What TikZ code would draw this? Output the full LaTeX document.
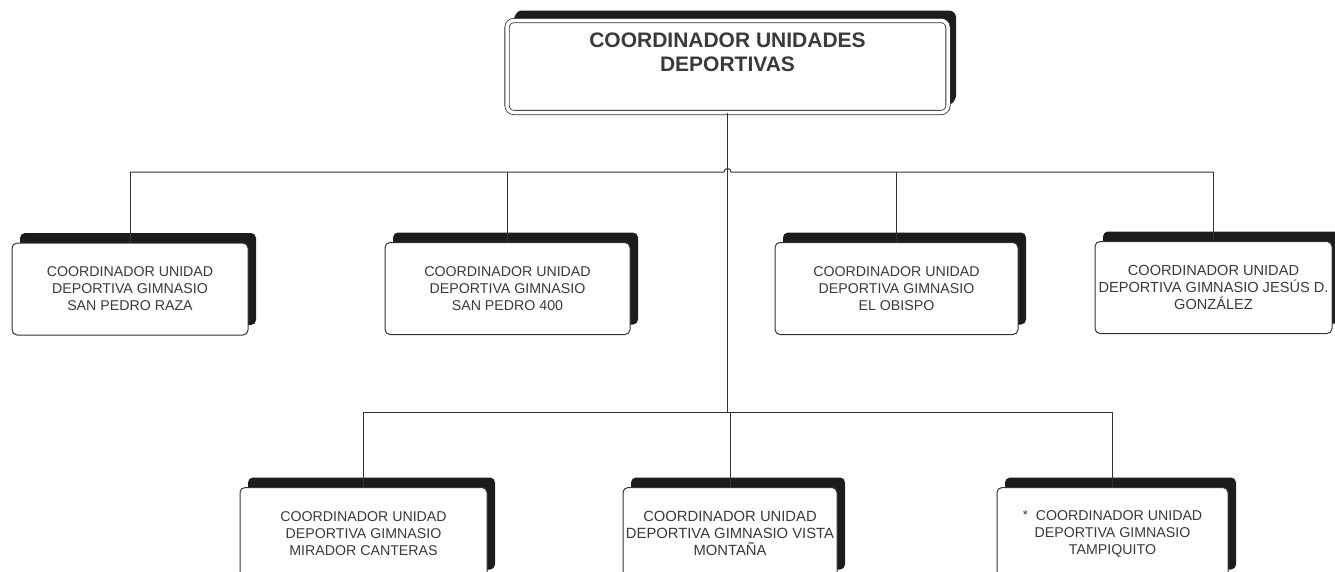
\documentclass[tikz,border=0pt]{standalone}
\usepackage{fontspec}
\setmainfont{Liberation Sans}
\usepackage{xcolor}
\usetikzlibrary{shadows}

\definecolor{inkgray}{HTML}{333333}
\definecolor{textgray}{HTML}{3A3A3A}
\definecolor{shadowgray}{HTML}{1C1C1C}

\begin{document}
\begin{tikzpicture}[x=1pt,y=-1pt,
  unitbox/.style={draw=inkgray, line width=1pt, fill=white, rounded corners=5pt,
    inner sep=0pt, minimum height=92pt, align=center, text=textgray,
    font=\fontsize{14.2}{17}\selectfont,
    drop shadow={shadow xshift=8pt, shadow yshift=10pt, fill=shadowgray, opacity=1}},
  headbox/.style={unitbox, rounded corners=7pt, double=white, double distance=3.5pt, line width=0.8pt,
    drop shadow={shadow xshift=7pt, shadow yshift=8pt, fill=shadowgray, opacity=1}},
  link/.style={draw=inkgray, line width=1pt}]

\useasboundingbox (0,0) rectangle (1335,571);
\clip (0,0) rectangle (1335,571);

% head
\node[headbox] (coord) at (727.5,66.5)
  {\parbox[c][91pt][t]{441pt}{\centering\vspace*{12pt}%
   \bfseries\fontsize{21}{23.5}\selectfont COORDINADOR UNIDADES\\DEPORTIVAS}};

% first row
\node[unitbox, minimum width=236pt] (raza) at (130,289)
  {COORDINADOR UNIDAD\\DEPORTIVA GIMNASIO\\SAN PEDRO RAZA};
\node[unitbox, minimum width=245pt] (cuatro) at (507.5,288.5)
  {COORDINADOR UNIDAD\\DEPORTIVA GIMNASIO\\SAN PEDRO 400};
\node[unitbox, minimum width=243pt] (obispo) at (896.5,288.5)
  {COORDINADOR UNIDAD\\DEPORTIVA GIMNASIO\\EL OBISPO};
\node[unitbox, minimum width=237pt, font=\fontsize{14.6}{17}\selectfont] (jesus) at (1213.5,287.5)
  {COORDINADOR UNIDAD\\DEPORTIVA GIMNASIO JESÚS D.\\GONZÁLEZ};

% second row
\node[unitbox, minimum width=247pt] (mirador) at (363.5,533.5)
  {COORDINADOR UNIDAD\\DEPORTIVA GIMNASIO\\MIRADOR CANTERAS};
\node[unitbox, minimum width=214pt, font=\fontsize{14.8}{17}\selectfont] (vista) at (730,533.5)
  {COORDINADOR UNIDAD\\DEPORTIVA GIMNASIO VISTA\\MONTAÑA};
\node[unitbox, minimum width=231pt] (tampi) at (1112.5,533.5)
  {\raisebox{1pt}{\fontsize{13}{13}\selectfont *}\hspace{8pt}COORDINADOR UNIDAD\\DEPORTIVA GIMNASIO\\TAMPIQUITO};

% buses
\coordinate (hubA) at (727.5,172);
\coordinate (hubB) at (727.5,412);

\draw[link] (coord.south) -- (hubB);
\draw[link] (raza.north |- hubA) -- ([xshift=-3.5pt]hubA)
  arc[start angle=180, end angle=360, radius=3.5] -- (jesus.north |- hubA);
\draw[link] (mirador.north |- hubB) -- (tampi.north |- hubB);

\foreach \b in {raza,cuatro,obispo,jesus}
  \draw[link] (\b.north) -- (\b.north |- hubA);
\foreach \b in {mirador,vista,tampi}
  \draw[link] (\b.north) -- (\b.north |- hubB);
\end{tikzpicture}
\end{document}
